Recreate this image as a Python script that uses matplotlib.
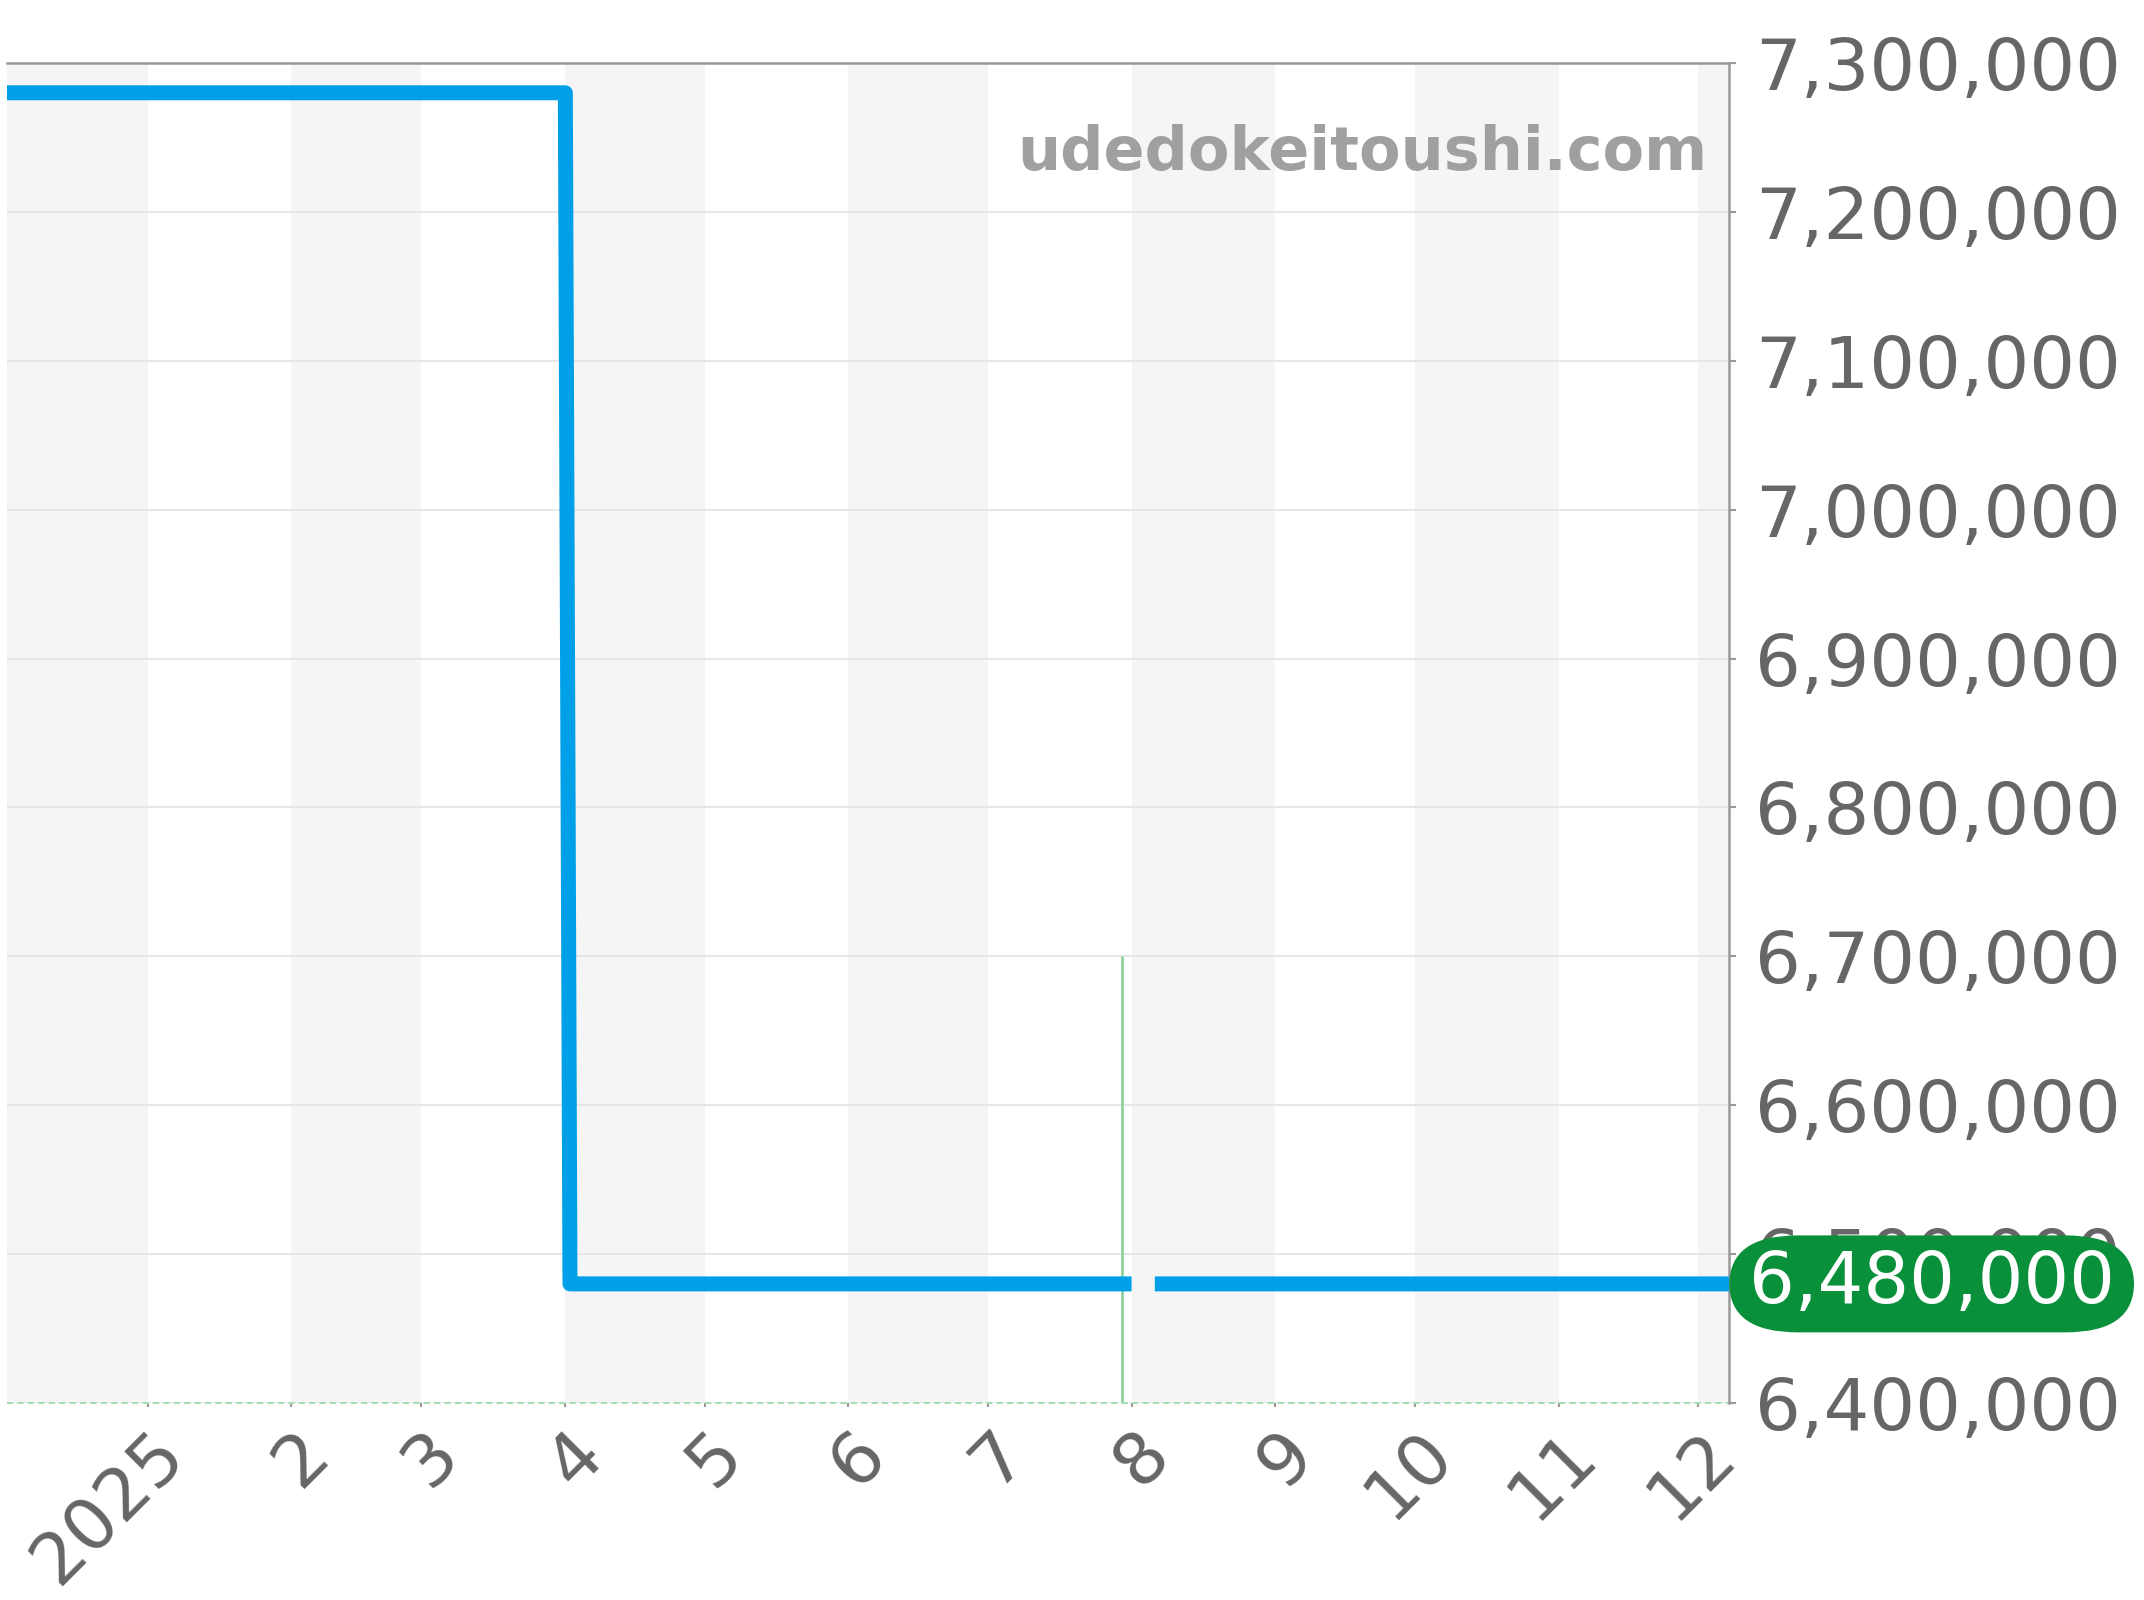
import numpy as np
import pandas as pd
import matplotlib
matplotlib.use('Agg')
import matplotlib.pyplot as plt
import matplotlib.ticker as mticker
from matplotlib.transforms import ScaledTranslation

# price history (NaN = no data, makes the gap in early August)
dates = pd.to_datetime(['2024-12-01', '2025-04-01', '2025-04-02',
                        '2025-08-01', '2025-08-03', '2025-08-06', '2025-12-08'])
prices = [7280000, 7280000, 6480000, 6480000, np.nan, 6480000, 6480000]

# event marker
event_date = pd.Timestamp('2025-07-30')
event_top = 6700000

# alternating month shading (start of each shaded month)
shade_months = pd.to_datetime(['2024-12-01', '2025-02-01', '2025-04-01', '2025-06-01',
                               '2025-08-01', '2025-10-01', '2025-12-01'])

tick_dates = pd.date_range('2025-01-01', '2025-12-01', freq='MS')
tick_labels = ['2025', '2', '3', '4', '5', '6', '7', '8', '9', '10', '11', '12']

y_min, y_max, y_step = 6400000, 7300000, 100000
x_start = pd.Timestamp('2024-12-01 17:00')
x_end = pd.Timestamp('2025-12-07 17:00')

BLUE = '#00a0e9'
GREY_TXT = '#666666'
SPINE = '#999999'
FS = 51.8

fig = plt.figure(figsize=(21.44, 16), dpi=100)
ax = fig.add_axes([7 / 2144, 197 / 1600, 1722 / 2144, 1340 / 1600])

for m in shade_months:
    ax.axvspan(m, m + pd.offsets.MonthBegin(1), color='#f5f5f5', lw=0, zorder=0)

ax.plot(dates, prices, color=BLUE, lw=10.8, solid_capstyle='butt',
        solid_joinstyle='round', zorder=3)

ax.vlines(event_date, y_min, event_top, color='#8fd19e', lw=2, zorder=2)
ax.axhline(y_min, color='#a6dfb4', lw=1.5, ls=(0, (3, 2)), clip_on=False, zorder=2)

ax.set_xlim(x_start, x_end)
ax.set_ylim(y_min, y_max)
ax.set_yticks(np.arange(y_min, y_max + 1, y_step))
ax.yaxis.set_major_formatter(mticker.FuncFormatter(lambda v, p: f'{int(v):,}'))
ax.yaxis.tick_right()

ax.grid(axis='y', color='#e3e3e3', lw=1.2)
ax.set_axisbelow(True)

for side in ['left', 'bottom']:
    ax.spines[side].set_visible(False)
for side in ['top', 'right']:
    ax.spines[side].set_color(SPINE)
    ax.spines[side].set_linewidth(1.8)

ax.tick_params(axis='y', direction='out', length=5, width=1.5, color=SPINE,
               labelcolor=GREY_TXT, labelsize=FS, pad=14)
ax.tick_params(axis='x', direction='out', length=3, width=1.5, color=SPINE,
               labelcolor=GREY_TXT, labelsize=FS, pad=8.4)

ax.set_xticks(tick_dates)
ax.set_xticklabels(tick_labels)
shift = ScaledTranslation(1.5 / 72, 0, fig.dpi_scale_trans)
for lbl in ax.get_xticklabels():
    lbl.set_rotation(45)
    lbl.set_rotation_mode('anchor')
    lbl.set_ha('right')
    lbl.set_va('top')
    lbl.set_transform(lbl.get_transform() + shift)

ax.text(0.9872, 0.920, 'udedokeitoushi.com', transform=ax.transAxes,
        ha='right', va='baseline', fontsize=43.6, fontweight='bold', color='#a0a0a0')

last_price = prices[-1]
ax.annotate(f'{last_price:,}', xy=(1, last_price), xycoords=('axes fraction', 'data'),
            xytext=(14.2, 0), textcoords='offset points', ha='left', va='center',
            color='white', fontsize=FS, annotation_clip=False, zorder=5,
            bbox=dict(boxstyle='round,pad=0.27,rounding_size=0.95', mutation_aspect=0.72,
                      fc='#0a903b', ec='none'))

fig.savefig('out.png', dpi=100)
